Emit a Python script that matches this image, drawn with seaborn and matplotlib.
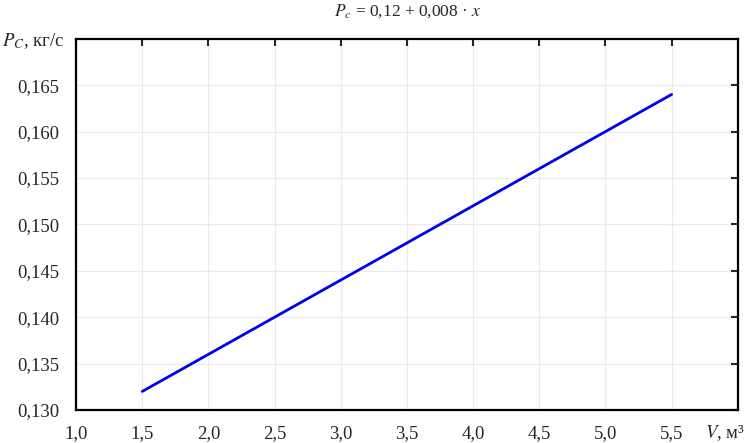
import matplotlib
matplotlib.use("Agg")
import matplotlib.pyplot as plt
import seaborn as sns
import pandas as pd

# values
volume = [1.5, 2.0, 2.5, 3.0, 3.5, 4.0, 4.5, 5.0, 5.5]
flow = [0.132, 0.136, 0.140, 0.144, 0.148, 0.152, 0.156, 0.160, 0.164]
x_ticks = [1.0, 1.5, 2.0, 2.5, 3.0, 3.5, 4.0, 4.5, 5.0, 5.5, 6.0]
y_ticks = [0.130, 0.135, 0.140, 0.145, 0.150, 0.155, 0.160, 0.165, 0.170]

df = pd.DataFrame({"V": volume, "P": flow})

sns.set_style("white")
plt.rcParams["font.family"] = ["Liberation Serif", "DejaVu Serif"]
plt.rcParams["mathtext.fontset"] = "stix"

fig = plt.figure(figsize=(7.46, 4.43), dpi=100)
ax = fig.add_axes([0.102, 0.0745, 0.887, 0.838])

sns.lineplot(data=df, x="V", y="P", color="#0000ee", linewidth=2, ax=ax)

ax.set_xlim(1.0, 6.0)
ax.set_ylim(0.130, 0.170)
ax.set_xticks(x_ticks[:-1])
ax.set_yticks(y_ticks[:-1])
ax.set_xticklabels([f"{v:.1f}".replace(".", ",") for v in x_ticks[:-1]])
ax.set_yticklabels([f"{v:.3f}".replace(".", ",") for v in y_ticks[:-1]])
ax.tick_params(direction="in", length=5, width=1.5, labelsize=13.5,
               top=True, right=True)
ax.tick_params(axis="y", pad=12)
ax.tick_params(axis="x", pad=11)
ax.grid(True, color="#ebebeb", linewidth=0.8)
for s in ax.spines.values():
    s.set_visible(True)
    s.set_linewidth(1.6)
    s.set_color("black")

ax.set_xlabel("")
ax.set_ylabel("")
fig.text(0.546, 0.996, r"$P_c$ = 0,12 + 0,008 · $x$", fontsize=12.5,
         ha="center", va="top")
fig.text(0.003, 0.908, r"$P_C$, кг/с", fontsize=13.5, ha="left", va="center")
fig.text(0.998, 0.023, r"$V$, м³", fontsize=13.5, ha="right", va="center")

fig.savefig("out.png", dpi=100)
